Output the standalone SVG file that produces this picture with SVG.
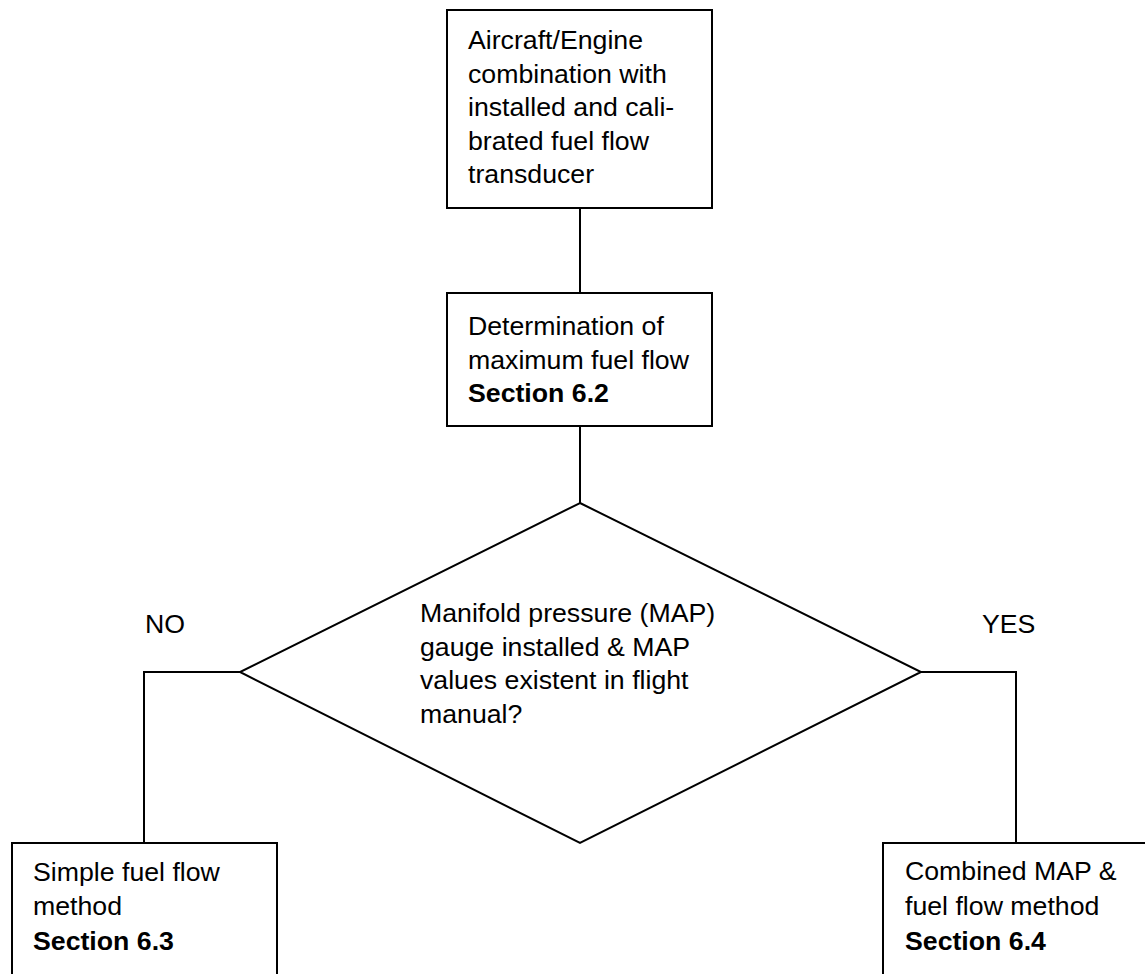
<svg xmlns="http://www.w3.org/2000/svg" width="1145" height="974" viewBox="0 0 1145 974">
<style>
.box{fill:#fff;stroke:#000;stroke-width:2}
.ln{fill:none;stroke:#000;stroke-width:2}
text{font-family:"Liberation Sans",Arial,sans-serif;font-size:26.7px;fill:#000}
.b{font-weight:bold}
</style>
<rect width="1145" height="974" fill="#fff"/>
<g id="connectors">
<line class="ln" x1="580" y1="208" x2="580" y2="293"/>
<line class="ln" x1="580" y1="426" x2="580" y2="503"/>
<polyline class="ln" points="240,672 144,672 144,843"/>
<polyline class="ln" points="921,672 1016,672 1016,843"/>
</g>
<g id="n1">
<rect class="box" x="447" y="10" width="265" height="198"/>
<text x="468" y="49">Aircraft/Engine</text>
<text x="468" y="82.5">combination with</text>
<text x="468" y="116">installed and cali-</text>
<text x="468" y="149.5">brated fuel flow</text>
<text x="468" y="183">transducer</text>
</g>
<g id="n2">
<rect class="box" x="447" y="293" width="265" height="133"/>
<text x="468" y="335">Determination of</text>
<text x="468" y="368.5">maximum fuel flow</text>
<text x="468" y="402" class="b">Section 6.2</text>
</g>
<g id="decision">
<polygon class="box" points="580,503 921,672 580,843 240,672"/>
<text x="420" y="622">Manifold pressure (MAP)</text>
<text x="420" y="655.5">gauge installed &amp; MAP</text>
<text x="420" y="689">values existent in flight</text>
<text x="420" y="723">manual?</text>
</g>
<g id="label-no"><text x="145" y="633">NO</text></g>
<g id="label-yes"><text x="982" y="633">YES</text></g>
<g id="n3">
<rect class="box" x="12" y="843" width="265" height="200"/>
<text x="33" y="881">Simple fuel flow</text>
<text x="33" y="915">method</text>
<text x="33" y="950" class="b">Section 6.3</text>
</g>
<g id="n4">
<rect class="box" x="883" y="843" width="300" height="200"/>
<text x="905" y="880">Combined MAP &amp;</text>
<text x="905" y="915">fuel flow method</text>
<text x="905" y="950" class="b">Section 6.4</text>
</g>
</svg>
